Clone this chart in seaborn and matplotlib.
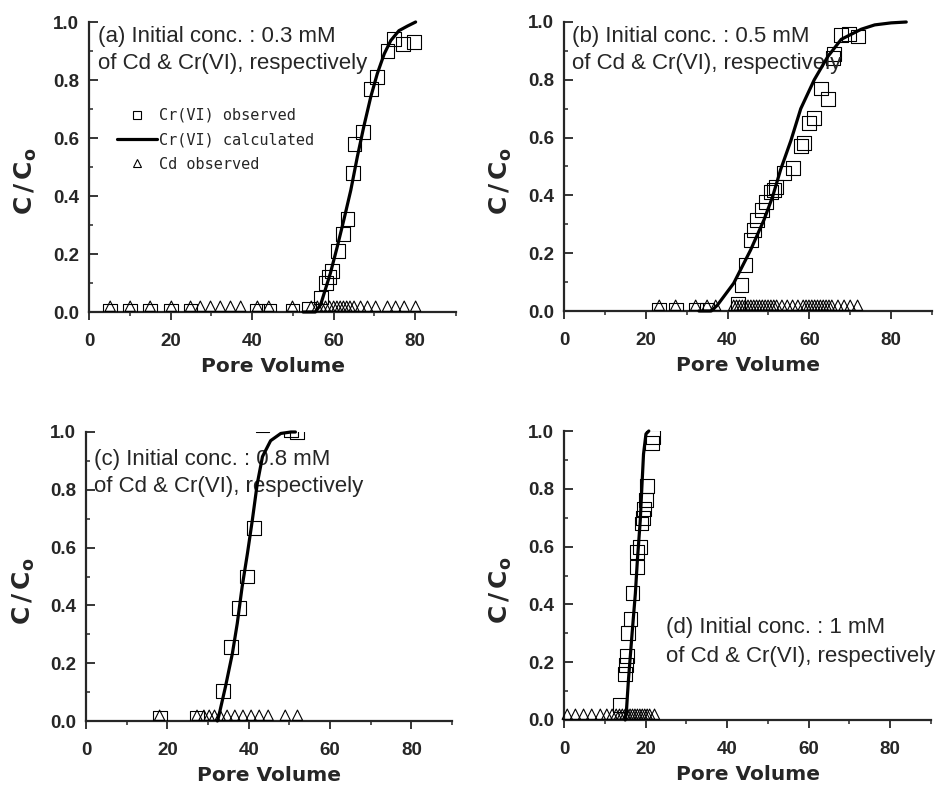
import matplotlib
matplotlib.use('Agg')
import matplotlib.pyplot as plt
from matplotlib import font_manager
from matplotlib.lines import Line2D
from matplotlib.ticker import MultipleLocator
import seaborn as sns

# ---- data ----
# (a) 0.3 mM
a_cr_x = [5.2, 10.1, 15.0, 20.2, 24.9, 41.3, 44.1, 49.9, 54.0, 56.9, 58.1, 58.8, 59.7, 61.0, 62.2, 63.4,
          64.7, 65.1, 67.1, 69.1, 70.7, 73.2, 74.8, 76.9, 79.7]
a_cr_y = [0.005, 0.005, 0.005, 0.005, 0.005, 0.005, 0.005, 0.005, 0.01, 0.05, 0.10, 0.12, 0.14, 0.21, 0.27, 0.32,
          0.48, 0.58, 0.62, 0.77, 0.81, 0.90, 0.94, 0.925, 0.93]
a_calc_x = [52.5, 55.5, 56.8, 59.2, 60.9, 62.5, 64.2, 65.8, 67.4, 69.1, 70.7, 72.4, 74.0, 76.0, 78.1, 80.1]
a_calc_y = [0.0, 0.0, 0.025, 0.134, 0.226, 0.318, 0.42, 0.535, 0.64, 0.742, 0.822, 0.89, 0.936, 0.97, 0.986, 1.0]
a_cd_x = [5.2, 10.1, 15.0, 20.2, 24.9, 27.3, 29.8, 32.2, 34.7, 37.2, 41.3, 44.1, 49.9, 54.5, 56.0, 57.0,
          58.0, 59.0, 60.0, 60.8, 61.6, 62.4, 63.2, 64.0, 65.0, 66.6, 68.3, 70.3, 73.2, 75.2, 77.3, 80.1]
a_cd_y = [0.02, 0.02, 0.02, 0.02, 0.02, 0.02, 0.02, 0.02, 0.02, 0.02, 0.02, 0.02, 0.02, 0.02, 0.02, 0.02,
          0.02, 0.02, 0.02, 0.02, 0.02, 0.02, 0.02, 0.02, 0.02, 0.02, 0.02, 0.02, 0.02, 0.02, 0.02, 0.02]

# (b) 0.5 mM
b_cr_x = [23.3, 27.3, 32.2, 35.0, 42.5, 43.4, 44.4, 45.7, 46.5, 47.3, 48.5, 49.3, 50.6, 51.3, 51.8, 53.8,
          55.9, 57.9, 58.6, 60.0, 61.2, 62.8, 64.5, 65.8, 66.1, 67.8, 69.8, 71.9]
b_cr_y = [0.005, 0.005, 0.005, 0.005, 0.025, 0.09, 0.16, 0.245, 0.28, 0.315, 0.35, 0.378, 0.413, 0.42, 0.43, 0.476,
          0.494, 0.57, 0.58, 0.65, 0.667, 0.77, 0.735, 0.875, 0.89, 0.955, 0.96, 0.95]
b_calc_x = [33.0, 36.0, 37.5, 41.5, 45.6, 48.9, 51.0, 53.0, 55.5, 57.9, 61.2, 64.5, 67.8, 72.7, 76.0, 80.0, 83.7]
b_calc_y = [0.0, 0.0, 0.02, 0.096, 0.21, 0.315, 0.395, 0.49, 0.59, 0.70, 0.80, 0.88, 0.94, 0.975, 0.99, 0.997, 1.0]
b_cd_x = [23.3, 27.3, 32.2, 35.0, 37.1, 41.5, 42.2, 42.9, 43.6, 44.3, 45.0, 45.7, 46.4, 47.1, 47.8, 48.5,
          49.2, 49.9, 50.6, 51.3, 52.0, 53.3, 54.6, 55.9, 57.2, 58.5, 59.2, 59.9, 60.6, 61.3, 62.0, 62.7,
          63.4, 64.1, 64.8, 65.5, 67.0, 68.5, 70.0, 71.8]
b_cd_y = [0.02, 0.02, 0.02, 0.02, 0.02, 0.02, 0.02, 0.02, 0.02, 0.02, 0.02, 0.02, 0.02, 0.02, 0.02, 0.02,
          0.02, 0.02, 0.02, 0.02, 0.02, 0.02, 0.02, 0.02, 0.02, 0.02, 0.02, 0.02, 0.02, 0.02, 0.02, 0.02,
          0.02, 0.02, 0.02, 0.02, 0.02, 0.02, 0.02, 0.02]

# (c) 0.8 mM
c_cr_x = [18.3, 27.4, 33.7, 35.6, 37.6, 39.5, 41.3, 43.4, 50.4, 51.9]
c_cr_y = [0.01, 0.01, 0.105, 0.257, 0.39, 0.50, 0.667, 1.025, 1.005, 1.0]
c_calc_x = [32.3, 32.7, 34.3, 36.0, 37.2, 38.4, 39.7, 40.9, 42.1, 43.4, 45.4, 47.9, 50.4, 51.5]
c_calc_y = [0.0, 0.02, 0.119, 0.234, 0.338, 0.465, 0.58, 0.695, 0.82, 0.915, 0.97, 0.995, 1.0, 1.0]
c_cd_x = [18.1, 27.3, 29.0, 30.3, 31.6, 33.0, 34.7, 36.6, 38.6, 40.6, 42.6, 44.8, 49.0, 52.0]
c_cd_y = [0.02, 0.02, 0.02, 0.02, 0.02, 0.02, 0.02, 0.02, 0.02, 0.02, 0.02, 0.02, 0.02, 0.02]

# (d) 1 mM
d_cr_x = [13.7, 14.9, 15.2, 15.5, 15.8, 16.3, 16.8, 17.8, 18.0, 18.6, 19.0, 19.4, 19.6, 20.1, 20.4, 21.5, 21.9]
d_cr_y = [0.052, 0.16, 0.19, 0.22, 0.30, 0.35, 0.44, 0.53, 0.58, 0.60, 0.68, 0.70, 0.73, 0.76, 0.81, 0.96, 0.98]
d_calc_x = [15.0, 15.3, 15.8, 16.7, 17.5, 18.0, 18.7, 19.1, 19.5, 20.1, 20.8]
d_calc_y = [0.0, 0.03, 0.138, 0.30, 0.438, 0.554, 0.69, 0.807, 0.92, 0.99, 1.0]
d_cd_x = [0.8, 2.8, 4.8, 6.8, 8.9, 10.5, 11.8, 12.8, 13.6, 14.3, 15.0, 15.6, 16.2, 16.8, 17.4, 18.0,
          18.6, 19.2, 19.8, 20.4, 21.0, 22.2]
d_cd_y = [0.02, 0.02, 0.02, 0.02, 0.02, 0.02, 0.02, 0.02, 0.02, 0.02, 0.02, 0.02, 0.02, 0.02, 0.02, 0.02,
          0.02, 0.02, 0.02, 0.02, 0.02, 0.02]

labels = ["(a) Initial conc. : 0.3 mM\nof Cd & Cr(VI), respectively",
          "(b) Initial conc. : 0.5 mM\nof Cd & Cr(VI), respectively",
          "(c) Initial conc. : 0.8 mM\nof Cd & Cr(VI), respectively",
          "(d) Initial conc. : 1 mM\nof Cd & Cr(VI), respectively"]

sns.set_style('ticks')
plt.rcParams['font.family'] = ['Liberation Sans', 'DejaVu Sans']
plt.rcParams['mathtext.fontset'] = 'dejavusans'

# condensed bold face for tick labels if one is available
names = {f.name for f in font_manager.fontManager.ttflist}
if 'Liberation Sans Narrow' in names:
    tick_font = dict(family='Liberation Sans Narrow', weight='bold', size=15)
elif 'DejaVu Sans Condensed' in names:
    tick_font = dict(family='DejaVu Sans Condensed', weight='bold', size=13)
else:
    tick_font = dict(family='Liberation Sans', weight='bold', size=13.5)

fig = plt.figure(figsize=(9.46, 7.87), dpi=100)
W, H = 946, 787
boxes = [(89, 456, 22, 312), (564, 932, 22, 311), (86, 452, 432, 721), (564, 931, 431, 720)]
text_pos = [(0.025, 0.985), (0.023, 0.985), (0.023, 0.94), (0.277, 0.355)]
text_ls = [1.35, 1.35, 1.35, 1.5]

panels = [(a_cr_x, a_cr_y, a_calc_x, a_calc_y, a_cd_x, a_cd_y),
          (b_cr_x, b_cr_y, b_calc_x, b_calc_y, b_cd_x, b_cd_y),
          (c_cr_x, c_cr_y, c_calc_x, c_calc_y, c_cd_x, c_cd_y),
          (d_cr_x, d_cr_y, d_calc_x, d_calc_y, d_cd_x, d_cd_y)]

for i, (crx, cry, clx, cly, cdx, cdy) in enumerate(panels):
    l, r, t, b = boxes[i]
    ax = fig.add_axes([l / W, 1 - b / H, (r - l) / W, (b - t) / H])
    sns.scatterplot(x=crx, y=cry, marker='s', s=100, facecolors='none', edgecolor='black',
                    linewidth=0.8, ax=ax, zorder=3)
    sns.scatterplot(x=cdx, y=cdy, marker='^', s=55, facecolors='none', edgecolor='black',
                    linewidth=0.8, ax=ax, clip_on=False, zorder=3)
    sns.lineplot(x=clx, y=cly, color='black', lw=2.3, sort=False, estimator=None, ax=ax,
                 clip_on=False, zorder=4)
    ax.set_xlim(0, 90)
    ax.set_ylim(0, 1.0)
    ax.xaxis.set_minor_locator(MultipleLocator(10))
    ax.yaxis.set_minor_locator(MultipleLocator(0.1))
    ax.set_xticks([0, 20, 40, 60, 80])
    ax.set_xticklabels(['0', '20', '40', '60', '80'], fontdict=tick_font)
    ax.set_yticks([0.0, 0.2, 0.4, 0.6, 0.8, 1.0])
    ax.set_yticklabels(['0.0', '0.2', '0.4', '0.6', '0.8', '1.0'], fontdict=tick_font)
    ax.tick_params(axis='x', which='major', length=6, width=1.3, direction='out', pad=9)
    ax.tick_params(axis='x', which='minor', length=3, width=1.1, direction='out')
    ax.tick_params(axis='y', which='major', length=6.5, width=1.3, direction='in', pad=7)
    ax.tick_params(axis='y', which='minor', length=3, width=1.1, direction='in')
    for sp in ['top', 'right']:
        ax.spines[sp].set_visible(False)
    for sp in ['left', 'bottom']:
        ax.spines[sp].set_linewidth(1.6)
    ax.set_xlabel('Pore Volume', family='DejaVu Sans', weight='bold', size=14.5, labelpad=5)
    ax.set_ylabel(r'$\mathbf{C\,/\,C_o}$', size=18)
    ax.yaxis.set_label_coords(-0.135, 0.45)
    ax.text(text_pos[i][0], text_pos[i][1], labels[i], transform=ax.transAxes, ha='left', va='top',
            fontsize=16, linespacing=text_ls[i])
    if i == 0:
        handles = [Line2D([], [], marker='s', ls='', ms=6, mfc='none', mec='black', mew=0.8),
                   Line2D([], [], color='black', lw=2.3),
                   Line2D([], [], marker='^', ls='', ms=6, mfc='none', mec='black', mew=0.8)]
        ax.legend(handles, ['Cr(VI) observed', 'Cr(VI) calculated', 'Cd observed'],
                  loc='upper left', bbox_to_anchor=(0.06, 0.725), frameon=False,
                  prop={'family': 'DejaVu Sans Mono', 'size': 11}, handlelength=2.6,
                  handletextpad=0.15, labelspacing=0.62, borderaxespad=0)

fig.savefig('out.png', dpi=100)
